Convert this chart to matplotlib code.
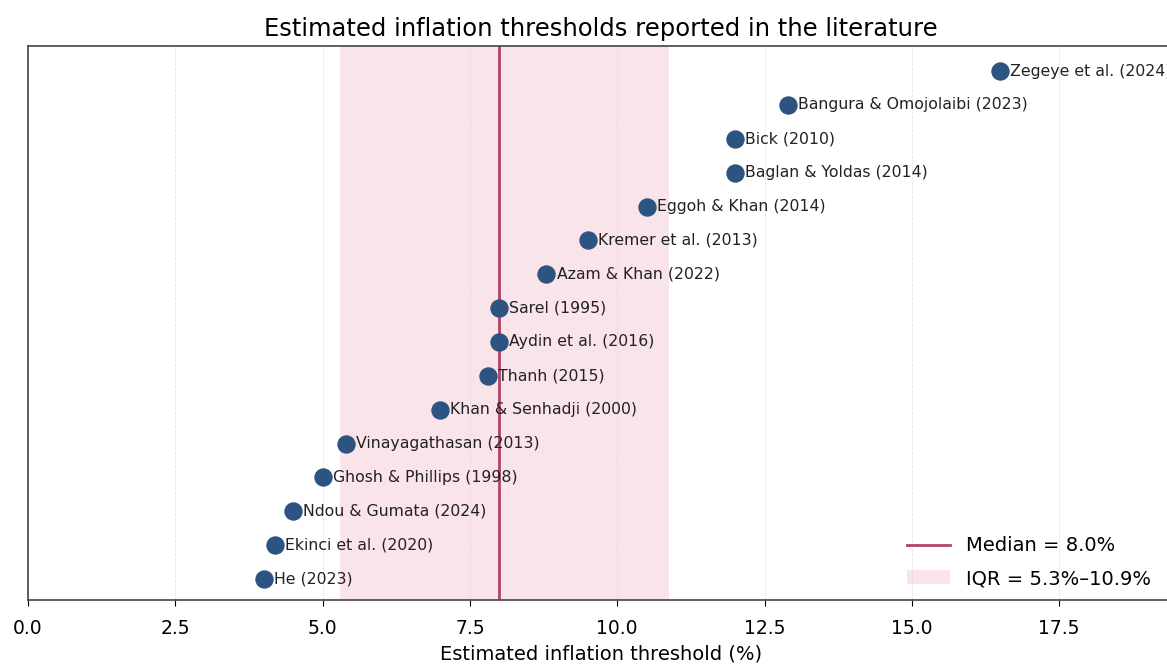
import matplotlib
matplotlib.use("Agg")
import matplotlib.pyplot as plt
import numpy as np

# studies, bottom to top
estudios = ["He (2023)", "Ekinci et al. (2020)", "Ndou & Gumata (2024)",
            "Ghosh & Phillips (1998)", "Vinayagathasan (2013)",
            "Khan & Senhadji (2000)", "Thanh (2015)", "Aydin et al. (2016)",
            "Sarel (1995)", "Azam & Khan (2022)", "Kremer et al. (2013)",
            "Eggoh & Khan (2014)", "Baglan & Yoldas (2014)", "Bick (2010)",
            "Bangura & Omojolaibi (2023)", "Zegeye et al. (2024)"]
umbrales = [4.0, 4.2, 4.5, 5.0, 5.4, 7.0, 7.8, 8.0, 8.0, 8.8, 9.5, 10.5,
            12.0, 12.0, 12.9, 16.5]

mediana = np.median(umbrales)
q1, q3 = np.percentile(umbrales, [25, 75])
y = np.arange(len(estudios))

fig = plt.figure(figsize=(11.67, 6.65), dpi=100)
ax = fig.add_axes([28/1167, 65/665, 1146/1167, 554/665])

ax.axvspan(q1, q3, color="#f2c4cf", alpha=0.45, lw=0,
           label=f"IQR = {q1:.1f}%–{q3:.1f}%")
ax.axvline(mediana, color="#b0446a", lw=2, label=f"Median = {mediana:.1f}%")
ax.scatter(umbrales, y, s=150, color="#2d5380", zorder=4)

for xi, yi, nombre in zip(umbrales, y, estudios):
    ax.text(xi + 0.17, yi, nombre, va="center", ha="left", fontsize=11.3,
            color="#222222", zorder=5)

ax.set_xlim(0, 19.45)
ax.set_ylim(-0.62, 15.74)
ax.set_yticks([])
ax.set_xticks(np.arange(0, 17.6, 2.5))
ax.tick_params(axis="x", labelsize=13.5, pad=10, length=4)
ax.grid(axis="x", linestyle="--", linewidth=0.6, alpha=0.35)
ax.set_axisbelow(True)
for s in ax.spines.values():
    s.set_color("#444444")
    s.set_linewidth(1.2)
ax.set_xlabel("Estimated inflation threshold (%)", fontsize=14, labelpad=4)
ax.set_title("Estimated inflation thresholds reported in the literature",
             fontsize=17.5, pad=7)

h, l = ax.get_legend_handles_labels()
ax.legend(h[::-1], l[::-1], loc="lower right", frameon=False, fontsize=14,
          bbox_to_anchor=(0.995, -0.01), handlelength=2.2, labelspacing=0.7)

fig.savefig("out.png", dpi=100)
